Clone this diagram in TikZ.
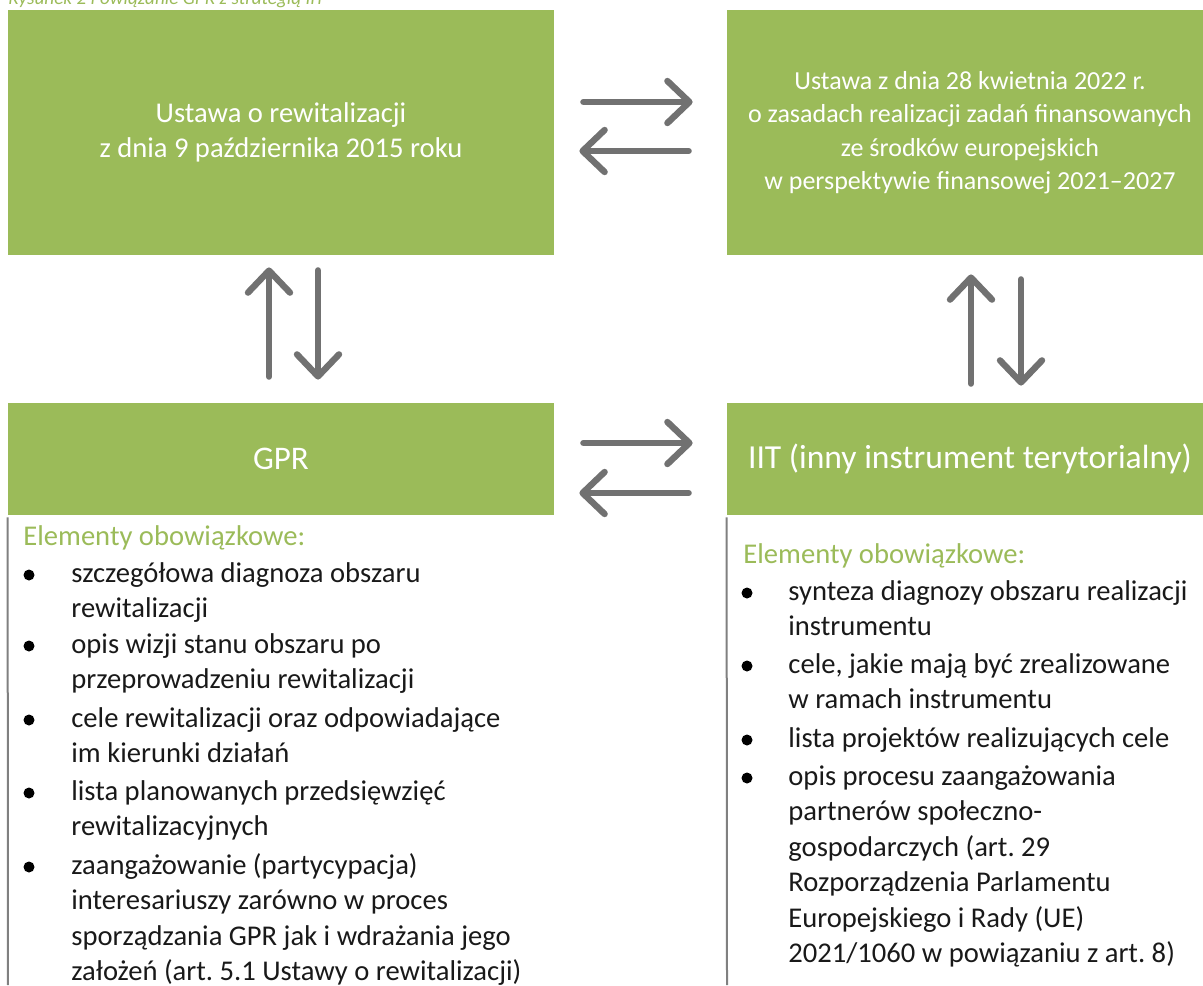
\documentclass[tikz,border=0pt]{standalone}
\usepackage{fontspec}
\setmainfont{Carlito}
\usetikzlibrary{arrows.meta}
\definecolor{zielen}{HTML}{9BBB59}
\definecolor{szary}{HTML}{717171}
\definecolor{linia}{HTML}{808080}
\frenchspacing
\newcommand{\wiersze}[1]{\begin{tabular}[t]{@{}l@{}}#1\end{tabular}}

\begin{document}
\begin{tikzpicture}[x=0.5pt,y=-0.5pt,>={Straight Barb[length=11pt,width=21pt,round]},
	blok/.style={fill=zielen,draw=none,text=white,align=center,inner sep=0pt},
	strzalka/.style={draw=szary,line width=3.2pt,line cap=round},
	naglowek/.style={anchor=base west,inner sep=0pt,text=zielen,font=\fontsize{14.3}{17.75}\selectfont},
	punkt/.style={anchor=base west,inner sep=0pt,text=black!90,font=\fontsize{14.3}{17.75}\selectfont},
	kropka/.style={circle,fill=black,inner sep=0pt,minimum size=5.5pt},
	ramka/.style={draw=linia,line width=1pt}]
	\useasboundingbox (0,0) rectangle (1203,985);
	\clip (0,0) rectangle (1203,985);
	% podpis (uciety u gory)
	\node[anchor=base west,inner sep=0pt,text=zielen,font=\fontsize{9.6}{11}\selectfont\itshape] (tytul) at (8,4) {Rysunek 2 Powiązanie GPR z strategią IIT};
	% bloki
	\node[blok,minimum width=273pt,minimum height=122.5pt,font=\fontsize{14.3}{17.5}\selectfont] (ustawa) at (281,132.5) {Ustawa o rewitalizacji\\z dnia 9 października 2015 roku};
	\node[blok,minimum width=243pt,minimum height=122.5pt,font=\fontsize{13}{16.7}\selectfont] (ue) at (970,132.5) {\rule{0pt}{6pt}Ustawa z dnia 28 kwietnia 2022 r.\\o zasadach realizacji zadań finansowanych\\ze środków europejskich\\w perspektywie finansowej 2021--2027};
	\node[blok,minimum width=273pt,minimum height=56pt,font=\fontsize{16.5}{20}\selectfont] (gpr) at (281,459) {GPR};
	\node[blok,minimum width=243pt,minimum height=56pt,font=\fontsize{16.8}{20}\selectfont] (iit) at (970,459) {IIT (inny instrument terytorialny)};
	% strzalki
	\draw[strzalka,->,shorten <=14.5pt,shorten >=17pt] ([yshift=15.25pt]ustawa.east) -- ([yshift=15.25pt]ue.west);
	\draw[strzalka,<-,shorten <=12.5pt,shorten >=19pt] ([yshift=-9.25pt]ustawa.east) -- ([yshift=-9.25pt]ue.west);
	\draw[strzalka,->,shorten <=14.5pt,shorten >=17pt] ([yshift=8pt]gpr.east) -- ([yshift=8pt]iit.west);
	\draw[strzalka,<-,shorten <=12.5pt,shorten >=19pt] ([yshift=-17pt]gpr.east) -- ([yshift=-17pt]iit.west);
	\draw[strzalka,<-,shorten <=6pt,shorten >=13pt] ([xshift=-6pt]ustawa.south) -- ([xshift=-6pt]gpr.north);
	\draw[strzalka,->,shorten <=7.5pt,shorten >=11.5pt] ([xshift=18.5pt]ustawa.south) -- ([xshift=18.5pt]gpr.north);
	\draw[strzalka,<-,shorten <=9.5pt,shorten >=9.5pt] ([xshift=0.5pt]ue.south) -- ([xshift=0.5pt]iit.north);
	\draw[strzalka,->,shorten <=12pt,shorten >=8.5pt] ([xshift=25.5pt]ue.south) -- ([xshift=25.5pt]iit.north);
	% ramki list
	\draw[ramka] ([yshift=-1pt]gpr.south west) -- (8,985);
	\draw[ramka] ([yshift=-1pt]iit.south west) -- (727,985);
	% lista GPR
	\node[naglowek] (elgpr) at (23,545) {Elementy obowiązkowe:};
	\node[kropka] (k1) at (29,575) {};
	\node[punkt] (g1) at (71,582) {\wiersze{szczegółowa diagnoza obszaru\\rewitalizacji}};
	\node[kropka] (k2) at (29,646) {};
	\node[punkt] (g2) at (71,653) {\wiersze{opis wizji stanu obszaru po\\przeprowadzeniu rewitalizacji}};
	\node[kropka] (k3) at (29,720) {};
	\node[punkt] (g3) at (71,727) {\wiersze{cele rewitalizacji oraz odpowiadające\\im kierunki działań}};
	\node[kropka] (k4) at (29,793) {};
	\node[punkt] (g4) at (71,800) {\wiersze{lista planowanych przedsięwzięć\\rewitalizacyjnych}};
	\node[kropka] (k5) at (29,867) {};
	\node[punkt] (g5) at (71,874) {\wiersze{zaangażowanie (partycypacja)\\interesariuszy zarówno w proces\\sporządzania GPR jak i wdrażania jego\\założeń (art. 5.1 Ustawy o rewitalizacji)}};
	% lista IIT
	\node[naglowek] (eliit) at (743,563) {Elementy obowiązkowe:};
	\node[kropka] (m1) at (747,593) {};
	\node[punkt] (i1) at (788,600) {\wiersze{synteza diagnozy obszaru realizacji\\instrumentu}};
	\node[kropka] (m2) at (747,666) {};
	\node[punkt] (i2) at (788,673) {\wiersze{cele, jakie mają być zrealizowane\\w ramach instrumentu}};
	\node[kropka] (m3) at (747,740) {};
	\node[punkt] (i3) at (788,747) {\wiersze{lista projektów realizujących cele}};
	\node[kropka] (m4) at (747,778) {};
	\node[punkt] (i4) at (788,785) {\wiersze{opis procesu zaangażowania\\partnerów społeczno-\\gospodarczych (art. 29\\Rozporządzenia Parlamentu\\Europejskiego i Rady (UE)\\2021/1060 w powiązaniu z art. 8)}};
\end{tikzpicture}
\end{document}
